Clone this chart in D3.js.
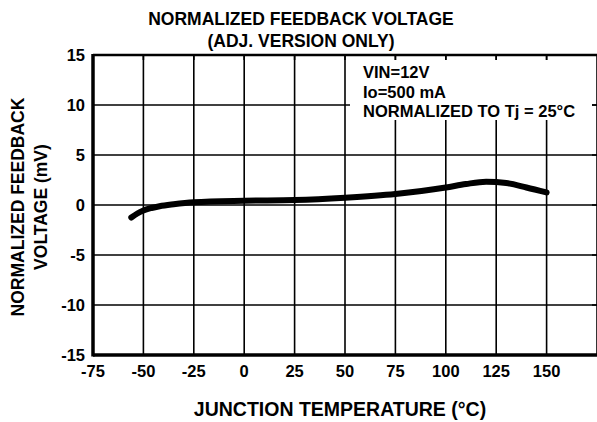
<!DOCTYPE html>
<html>
<head>
<meta charset="utf-8">
<script src="https://cdn.jsdelivr.net/npm/d3@7"></script>
<style>
  body { margin: 0; background: #fff; }
  text { font-family: "Liberation Sans", Arial, sans-serif; font-weight: bold; fill: #000; }
</style>
</head>
<body>
<svg></svg>
<script>
const temps = [-56, -53, -50, -46, -42, -35, -25, 0, 25, 50, 75, 100, 110, 120, 130, 140, 150];
const volts = [-1.25, -0.85, -0.55, -0.3, -0.12, 0.08, 0.28, 0.43, 0.5, 0.73, 1.1, 1.75, 2.1, 2.33, 2.2, 1.75, 1.25];
const xTicks = [-75, -50, -25, 0, 25, 50, 75, 100, 125, 150];
const yTicks = [-15, -10, -5, 0, 5, 10, 15];
const notes = ['VIN=12V', 'Io=500 mA', 'NORMALIZED TO Tj = 25°C'];

const width = 597;
const height = 422;
const svg = d3.select('svg')
  .attr('width', width)
  .attr('height', height);

const x = d3.scaleLinear().domain([-75, 175]).range([93, 597]);
const y = d3.scaleLinear().domain([-15, 15]).range([355, 55]);

// grid
const grid = svg.append('g');
grid.selectAll('.vx')
  .data(xTicks.concat([175]))
  .enter()
  .append('line')
  .attr('x1', d => x(d)).attr('x2', d => x(d))
  .attr('y1', y(15)).attr('y2', y(-15))
  .attr('stroke', '#000')
  .attr('stroke-width', 1.6);
grid.selectAll('.hy')
  .data(yTicks)
  .enter()
  .append('line')
  .attr('x1', x(-75)).attr('x2', x(175))
  .attr('y1', d => y(d)).attr('y2', d => y(d))
  .attr('stroke', '#000')
  .attr('stroke-width', 1.6);

// white box behind the notes
svg.append('rect')
  .attr('x', 350).attr('y', 60)
  .attr('width', 242).attr('height', 60)
  .attr('fill', '#fff');

// frame
svg.append('line')
  .attr('x1', x(-75)).attr('x2', x(175))
  .attr('y1', y(15)).attr('y2', y(15))
  .attr('stroke', '#000').attr('stroke-width', 2.5);
svg.append('line')
  .attr('x1', x(-75)).attr('x2', x(-75))
  .attr('y1', y(15) - 1).attr('y2', y(-15) + 1.5)
  .attr('stroke', '#000').attr('stroke-width', 3.5);
svg.append('line')
  .attr('x1', x(-75)).attr('x2', x(175))
  .attr('y1', y(-15)).attr('y2', y(-15))
  .attr('stroke', '#000').attr('stroke-width', 3.5);

// small ticks on top and right edges
svg.append('g').selectAll('line')
  .data(xTicks)
  .enter()
  .append('line')
  .attr('x1', d => x(d)).attr('x2', d => x(d))
  .attr('y1', y(15)).attr('y2', y(15) + 5)
  .attr('stroke', '#000').attr('stroke-width', 1.6);
svg.append('g').selectAll('line')
  .data(yTicks)
  .enter()
  .append('line')
  .attr('x1', x(175) - 5).attr('x2', x(175))
  .attr('y1', d => y(d)).attr('y2', d => y(d))
  .attr('stroke', '#000').attr('stroke-width', 1.6);

// curve
const pts = temps.map((t, i) => [t, volts[i]]);
svg.append('path')
  .datum(pts)
  .attr('fill', 'none')
  .attr('stroke', '#000')
  .attr('stroke-width', 6)
  .attr('stroke-linecap', 'round')
  .attr('d', d3.line().x(d => x(d[0])).y(d => y(d[1])).curve(d3.curveMonotoneX));

// tick labels
svg.append('g').selectAll('text')
  .data(xTicks)
  .enter()
  .append('text')
  .attr('x', d => x(d))
  .attr('y', 377)
  .attr('text-anchor', 'middle')
  .attr('font-size', 16.5)
  .text(d => d);
svg.append('g').selectAll('text')
  .data(yTicks)
  .enter()
  .append('text')
  .attr('x', 85)
  .attr('y', d => y(d) + 6)
  .attr('text-anchor', 'end')
  .attr('font-size', 16.5)
  .text(d => d);

// notes
svg.append('g').selectAll('text')
  .data(notes)
  .enter()
  .append('text')
  .attr('x', 363)
  .attr('y', (d, i) => 78 + i * 19.5)
  .attr('font-size', 16.5)
  .text(d => d);

// titles
svg.append('text')
  .attr('x', 301).attr('y', 25)
  .attr('text-anchor', 'middle')
  .attr('font-size', 17.5)
  .text('NORMALIZED FEEDBACK VOLTAGE');
svg.append('text')
  .attr('x', 301).attr('y', 47)
  .attr('text-anchor', 'middle')
  .attr('font-size', 17.5)
  .text('(ADJ. VERSION ONLY)');
svg.append('text')
  .attr('x', 340).attr('y', 416)
  .attr('text-anchor', 'middle')
  .attr('font-size', 19.5)
  .text('JUNCTION TEMPERATURE (°C)');

const yTitle = svg.append('text')
  .attr('transform', 'translate(0,207) rotate(-90)')
  .attr('text-anchor', 'middle')
  .attr('font-size', 17.5);
yTitle.append('tspan').attr('x', 0).attr('y', 24).text('NORMALIZED FEEDBACK');
yTitle.append('tspan').attr('x', 0).attr('y', 47).text('VOLTAGE (mV)');
</script>
</body>
</html>
